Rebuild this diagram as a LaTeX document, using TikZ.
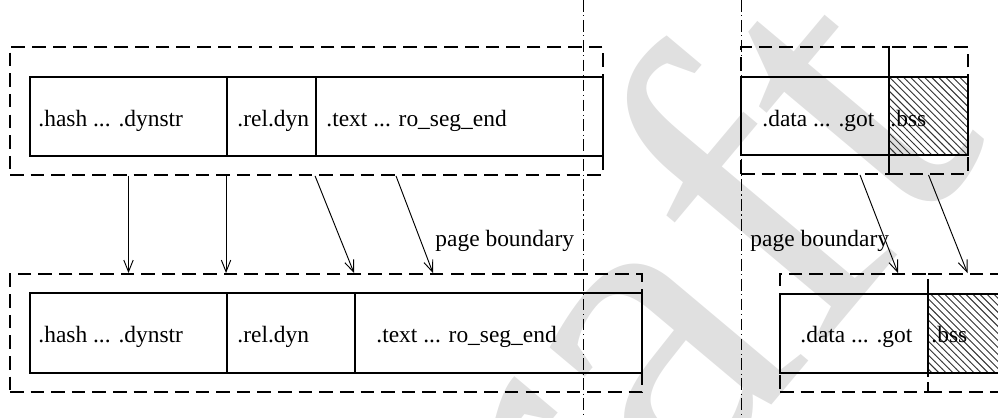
\documentclass[tikz,border=0pt]{standalone}
\usepackage{fontspec}
\setmainfont{Liberation Serif}
\usetikzlibrary{fit,patterns,arrows.meta}
\tikzset{
  pagebox/.style={draw, line width=0.8pt, dash pattern=on 5.8pt off 3pt, inner sep=0pt},
  sect/.style={draw, line width=0.8pt, inner sep=0pt},
  bsssect/.style={sect, pattern=north west lines, pattern color=black!80},
  lbl/.style={inner sep=0pt, anchor=base west},
  pageline/.style={line width=0.4pt, dash pattern=on 5pt off 1.5pt on 0.5pt off 1.5pt},
  maparrow/.style={line width=0.4pt, -{Straight Barb[length=5pt,width=4pt]}},
}
\begin{document}
\begin{tikzpicture}[x=0.15mm,y=-0.15mm]
        \useasboundingbox (0,0) rectangle (998,418);
        \node (draft) at (561,410) [rotate=50, text=black!12, font=\fontsize{195}{195}\selectfont] {Draft};

        % page boundaries
        \coordinate (pb1a) at (583,0); \coordinate (pb1b) at (583,418);
        \coordinate (pb2a) at (741,0); \coordinate (pb2b) at (741,418);
        \draw[pageline] (pb1a) -- (pb1b);
        \draw[pageline] (pb2a) -- (pb2b);

        % file layout
        \node (ro1) [pagebox, fit={(10,47) (603,175)}] {};
        \node (hash1) [sect, fit={(30,77) (227,156)}] {};
        \node (rel1) [sect, fit={(227,77) (316,156)}] {};
        \node (text1) [sect, fit={(316,77) (603,156)}] {};
        \node (rw1a) [pagebox, fit={(741,47) (889,174)}] {};
        \node (rw1b) [pagebox, fit={(889,47) (968,174)}] {};
        \node (data1) [sect, fit={(741,77) (889,155)}] {};
        \node (bss1) [bsssect, fit={(889,77) (968,155)}] {};

        \node (lhash1) [lbl] at (38,127) {.hash ... .dynstr};
        \node (lrel1) [lbl] at (237,127) {.rel.dyn};
        \node (ltext1) [lbl] at (326,127) {.text ... ro\_seg\_end};
        \node (ldata1) [lbl] at (762,127) {.data ... .got};
        \node (lbss1) [lbl] at (890,127) {.bss};

        % memory layout
        \node (ro2) [pagebox, fit={(10,274) (642,392)}] {};
        \node (hash2) [sect, fit={(30,293) (227,373)}] {};
        \node (rel2) [sect, fit={(227,293) (355,373)}] {};
        \node (text2) [sect, fit={(355,293) (642,373)}] {};
        \node (rw2a) [pagebox, fit={(780,274) (928,392)}] {};
        \node (rw2b) [pagebox, fit={(928,274) (1010,392)}] {};
        \node (data2) [sect, fit={(780,294) (928,373)}] {};
        \node (bss2) [bsssect, fit={(928,294) (1007,373)}] {};

        \node (lhash2) [lbl] at (38,343) {.hash ... .dynstr};
        \node (lrel2) [lbl] at (237,343) {.rel.dyn};
        \node (ltext2) [lbl] at (376,343) {.text ... ro\_seg\_end};
        \node (ldata2) [lbl] at (800,343) {.data ... .got};
        \node (lbss2) [lbl] at (931,343) {.bss};

        \node (pbl1) [lbl] at (435,247) {page boundary};
        \node (pbl2) [lbl] at (750,247) {page boundary};

        % where each piece ends up
        \coordinate (t1) at (396,0); \coordinate (t2) at (433,0);
        \coordinate (d1) at (860,0); \coordinate (d2) at (898,0);
        \draw[maparrow] (ro1.south -| hash1) -- (ro2.north -| hash2);
        \draw[maparrow] (ro1.south -| rel1.west) -- (ro2.north -| rel2.west);
        \draw[maparrow] (ro1.south -| text1.west) -- (ro2.north -| text2.west);
        \draw[maparrow] (ro1.south -| t1) -- (ro2.north -| t2);
        \draw[maparrow] (rw1a.south -| d1) -- (rw2a.north -| d2);
        \draw[maparrow] (rw1b.south -| bss1) -- (rw2b.north -| bss2);
\end{tikzpicture}
\end{document}
